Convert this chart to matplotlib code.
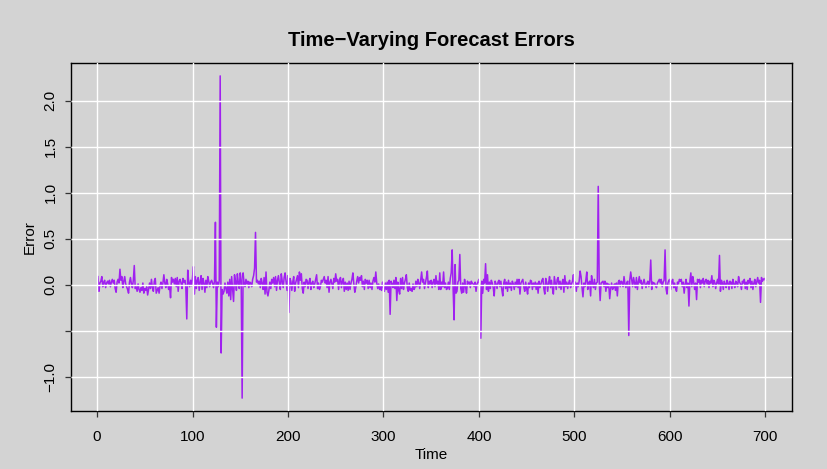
#library import
import numpy as np
import matplotlib
matplotlib.use("Agg")
import matplotlib.pyplot as plt

################################################################
#DATA - forecast errors, 100 steps per block
err_001_100 = [
    0.09, -0.07, 0.02, 0.04, 0.09, -0.02, 0.03, 0.05, -0.03, 0.02,
    0.04, 0.01, 0.05, -0.02, 0.03, 0.06, 0.02, 0.05, -0.04, -0.08,
    0.03, 0.06, 0.02, 0.17, 0.05, 0.09, -0.03, 0.04, 0.09, 0.01,
    -0.02, -0.05, -0.09, 0.03, 0.08, 0.01, -0.03, 0.05, 0.21, -0.04,
    -0.02, -0.07, 0.01, -0.05, -0.08, -0.03, -0.06, 0.02, -0.09, -0.04,
    -0.06, -0.02, -0.11, -0.05, 0.02, -0.04, 0.06, -0.03, -0.07, 0.04,
    0.07, -0.09, -0.06, -0.03, -0.09, -0.01, 0.03, -0.04, 0.02, 0.11,
    0.02, -0.03, 0.06, 0.01, -0.05, -0.02, -0.14, 0.08, 0.03, 0.06,
    0.01, 0.07, -0.02, 0.08, -0.07, 0.04, 0.06, 0.02, -0.04, 0.07,
    0.03, 0.05, -0.02, -0.37, 0.16, 0.03, -0.02, 0.05, -0.01, 0.08,
]
err_101_200 = [
    0.20, -0.10, 0.09, -0.04, 0.05, 0.08, -0.06, 0.03, 0.10, -0.05,
    0.07, 0.02, -0.08, 0.05, -0.03, 0.09, 0.04, -0.02, 0.03, 0.05,
    0.02, -0.03, 0.04, 0.68, -0.46, 0.03, -0.02, 0.05, 2.27, -0.74,
    -0.05, -0.10, -0.07, 0.02, -0.04, -0.09, 0.03, -0.12, 0.06, -0.16,
    0.09, -0.05, -0.18, 0.11, 0.04, -0.06, 0.12, 0.02, -0.04, 0.13,
    0.05, -1.23, 0.13, 0.02, -0.02, 0.06, 0.01, 0.04, -0.03, 0.03,
    0.02, -0.02, 0.06, 0.10, 0.18, 0.57, 0.03, 0.05, 0.01, 0.04,
    -0.03, 0.07, 0.02, -0.05, 0.08, -0.10, 0.14, -0.08, -0.12, -0.06,
    0.03, -0.04, 0.06, 0.02, 0.08, -0.02, 0.09, -0.06, 0.05, 0.10,
    0.02, -0.05, 0.12, 0.04, -0.03, 0.08, 0.13, 0.03, -0.06, 0.10,
]
err_201_300 = [
    -0.30, 0.07, 0.04, -0.06, 0.03, 0.09, -0.07, 0.02, 0.06, 0.10,
    -0.03, 0.14, 0.05, 0.12, -0.04, -0.09, 0.03, -0.02, 0.06, 0.05,
    -0.04, 0.03, 0.07, -0.05, 0.02, 0.04, -0.03, 0.01, 0.06, 0.11,
    -0.04, 0.02, -0.05, -0.02, 0.05, 0.03, 0.06, 0.09, 0.02, 0.05,
    -0.03, 0.09, -0.08, 0.03, 0.06, 0.01, -0.04, 0.07, 0.03, 0.12,
    0.04, 0.06, -0.05, 0.05, 0.08, -0.03, 0.04, 0.07, -0.07, 0.03,
    -0.05, 0.02, -0.06, 0.04, -0.05, 0.02, 0.06, 0.13, 0.01, -0.08,
    -0.03, 0.04, 0.09, 0.02, 0.08, 0.05, 0.10, -0.02, 0.04, -0.05,
    0.06, 0.02, 0.05, -0.04, 0.05, -0.03, 0.02, -0.05, 0.04, 0.08,
    0.03, 0.14, 0.02, -0.04, 0.01, -0.05, -0.02, -0.06, 0.03, -0.03,
]
err_301_400 = [
    -0.07, 0.02, -0.05, 0.03, -0.08, 0.05, -0.32, 0.04, 0.01, -0.03,
    0.05, -0.04, 0.08, -0.17, 0.03, -0.06, -0.10, 0.07, -0.04, 0.08,
    -0.05, 0.02, 0.06, 0.11, -0.03, -0.07, 0.02, -0.06, -0.04, -0.07,
    0.01, -0.05, -0.03, 0.04, -0.02, 0.06, 0.02, -0.04, 0.05, 0.14,
    0.03, 0.06, -0.04, 0.02, 0.08, 0.15, -0.03, 0.04, 0.01, 0.05,
    -0.03, 0.03, 0.06, -0.02, 0.10, 0.01, 0.04, -0.05, 0.13, -0.05,
    0.03, -0.02, 0.14, -0.03, 0.02, -0.05, -0.04, 0.03, -0.05, 0.07,
    0.13, 0.38, -0.05, -0.38, 0.22, -0.09, -0.07, 0.03, 0.05, 0.33,
    -0.04, -0.09, 0.02, -0.08, 0.06, -0.02, -0.09, 0.04, 0.01, 0.03,
    -0.03, 0.04, 0.02, 0.01, -0.02, 0.03, -0.07, 0.01, 0.03, 0.06,
]
err_401_500 = [
    -0.02, -0.58, 0.04, -0.09, 0.06, 0.02, 0.23, -0.05, 0.11, -0.07,
    0.03, -0.04, 0.05, 0.02, -0.03, -0.12, 0.04, 0.01, -0.04, 0.03,
    0.05, -0.02, 0.04, -0.05, -0.12, 0.02, 0.06, -0.04, 0.03, -0.07,
    0.05, -0.03, 0.02, -0.06, 0.04, 0.01, -0.05, 0.03, -0.02, 0.06,
    -0.03, 0.06, -0.10, 0.02, 0.04, 0.06, -0.02, -0.07, 0.03, -0.04,
    -0.10, 0.02, -0.03, 0.05, 0.04, -0.05, 0.02, -0.02, 0.03, -0.05,
    0.02, -0.09, 0.04, -0.03, 0.01, 0.05, 0.07, -0.04, -0.10, 0.07,
    0.03, -0.07, 0.02, 0.09, -0.03, 0.05, -0.04, -0.10, 0.09, 0.02,
    -0.05, 0.06, 0.08, -0.03, 0.04, -0.05, 0.02, 0.06, -0.08, 0.10,
    -0.02, 0.03, -0.04, 0.02, 0.05, -0.03, 0.01, 0.04, 0.11, -0.02,
]
err_501_600 = [
    0.03, -0.07, 0.02, -0.02, 0.04, 0.15, 0.09, -0.03, -0.13, 0.02,
    -0.02, 0.05, 0.14, -0.05, 0.02, 0.04, -0.12, 0.10, 0.02, -0.03,
    0.06, -0.05, 0.02, 0.03, 1.07, 0.04, -0.17, 0.02, 0.03, 0.04,
    -0.02, 0.04, -0.07, 0.02, -0.03, 0.01, -0.15, -0.04, 0.02, -0.05,
    -0.03, 0.01, -0.06, 0.02, -0.12, 0.03, 0.05, -0.02, 0.04, 0.03,
    -0.02, 0.09, 0.01, -0.03, 0.03, 0.04, -0.55, 0.05, 0.14, 0.06,
    -0.02, 0.08, 0.02, -0.03, 0.08, -0.05, 0.03, 0.09, 0.02, 0.05,
    -0.04, 0.02, 0.06, 0.01, -0.03, 0.02, 0.04, -0.02, 0.05, 0.27,
    -0.05, 0.03, 0.01, 0.02, -0.01, -0.03, 0.02, 0.04, 0.06, 0.02,
    0.06, -0.02, 0.03, 0.05, 0.38, -0.04, -0.10, 0.02, 0.05, 0.06,
]
err_601_700 = [
    -0.05, 0.04, 0.06, -0.03, 0.02, -0.04, -0.07, 0.03, 0.01, 0.06,
    0.04, 0.06, -0.02, 0.03, -0.09, 0.01, 0.06, -0.03, 0.02, -0.23,
    0.04, 0.13, -0.02, 0.09, 0.03, -0.05, 0.02, -0.16, 0.06, 0.03,
    0.06, -0.03, 0.05, 0.02, 0.07, -0.02, 0.04, 0.06, 0.01, 0.05,
    -0.03, 0.04, 0.02, 0.10, -0.02, 0.05, 0.03, -0.04, 0.02, 0.06,
    0.01, 0.32, -0.07, 0.05, 0.02, -0.05, 0.04, 0.01, -0.03, 0.05,
    0.02, -0.05, 0.04, 0.03, -0.04, 0.06, 0.01, -0.03, 0.04, 0.02,
    -0.02, 0.09, 0.03, 0.01, -0.05, 0.04, 0.02, 0.06, -0.04, 0.03,
    -0.05, 0.05, 0.02, 0.07, -0.03, 0.04, -0.05, 0.02, 0.06, -0.02,
    0.03, 0.08, 0.02, 0.05, -0.19, 0.08, 0.04, 0.06, 0.07, 0.05,
]

x_ticks = [0, 100, 200, 300, 400, 500, 600, 700]
y_ticks = [-1.0, -0.5, 0.0, 0.5, 1.0, 1.5, 2.0]
y_ticklabels = ["\u22121.0", "", "0.0", "0.5", "1.0", "1.5", "2.0"]
################################################################

################################################################
#FIGURE CONFIGURATION
fig_cb = "#d3d3d3"      #background (R lightgray)
line_c = "#a020f0"      #R purple
line_lw = 1.1
grid_c = "white"
grid_lw = 1.0
txt_size = 11
plt.rcParams["font.family"] = ["Liberation Sans", "DejaVu Sans"]
################################################################

errors = np.array(err_001_100 + err_101_200 + err_201_300 + err_301_400
                  + err_401_500 + err_501_600 + err_601_700)
time = np.arange(1, len(errors) + 1)

fig = plt.figure(figsize=(8.28, 4.69), dpi=100)
fig.set_facecolor(fig_cb)
ax = fig.add_axes([71.3 / 828, 58 / 469, (792 - 71.3) / 828, (411 - 63) / 469])
ax.set_facecolor(fig_cb)

ax.plot(time, errors, color=line_c, lw=line_lw)
ax.margins(x=0.04, y=0.04)   #R style 4% axis extension

ax.set_xticks(x_ticks)
ax.set_yticks(y_ticks)
ax.set_yticklabels(y_ticklabels, rotation=90, va="center")
ax.grid(True, color=grid_c, lw=grid_lw)
ax.set_axisbelow(False)      #grid drawn over the line, like R grid()

for s in ax.spines.values():
    s.set_color("black")
    s.set_linewidth(1.0)
ax.tick_params(axis="both", direction="out", length=4.5, width=0.9,
               color="#333333", labelsize=txt_size, labelcolor="black")
ax.tick_params(axis="x", pad=9)
ax.tick_params(axis="y", pad=5.5)

ax.set_xlabel("Time", fontsize=txt_size, labelpad=3)
ax.set_ylabel("Error", fontsize=txt_size, labelpad=5)
ax.set_title("Time\u2212Varying Forecast Errors", fontsize=14.5,
             fontweight="bold", pad=12)

fig.savefig("out.png", dpi=100, facecolor=fig_cb)
